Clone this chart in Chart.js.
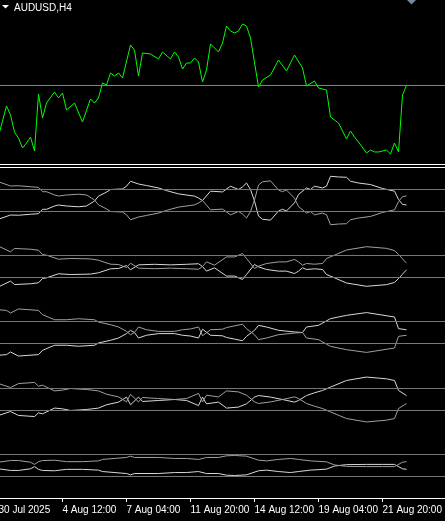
<!DOCTYPE html>
<html>
<head>
<meta charset="utf-8">
<script src="https://cdn.jsdelivr.net/npm/chart.js@4/dist/chart.umd.min.js"></script>
<style>
html, body { margin: 0; padding: 0; background: #000; overflow: hidden; }
#wrap { position: relative; width: 445px; height: 521px; background: #000; }
#wrap canvas { position: absolute; left: 0; }
</style>
</head>
<body>
<div id="wrap">
  <canvas id="price" width="445" height="170" style="top:0px"></canvas>
  <canvas id="osc1" width="445" height="67" style="top:167px"></canvas>
  <canvas id="osc2" width="445" height="67" style="top:233px"></canvas>
  <canvas id="osc3" width="445" height="67" style="top:299px"></canvas>
  <canvas id="osc4" width="445" height="67" style="top:366px"></canvas>
  <canvas id="osc5" width="445" height="89" style="top:432px"></canvas>
</div>
<script>
// AUDUSD H4 line chart, bars counted from the first labelled bar
const symbolTitle = "AUDUSD,H4"
const bidPrice = 0.64957

const tickBars = [-1, 15, 31, 47, 63, 79, 95]
const tickLabels = ["30 Jul 2025", "4 Aug 12:00", "7 Aug 04:00", "11 Aug 20:00", "14 Aug 12:00", "19 Aug 04:00", "21 Aug 20:00"]

const priceBars = [
  -1, 1, 2, 3, 4, 5, 6, 7, 8, 9,
  10, 11, 13, 14, 15, 16, 18, 20, 22, 23,
  24, 25, 26, 27, 28, 29, 30, 32, 33, 34,
  35, 37, 39, 40, 42, 43, 44, 45, 46, 47,
  48, 49, 50, 51, 52, 54, 55, 56, 57, 58,
  59, 60, 61, 62, 64, 65, 67, 69, 71, 73,
  75, 76, 78, 79, 81, 82, 84, 86, 87, 88,
  89, 91, 92, 93, 94, 96, 97, 98, 99, 100,
  101
]
const priceClose = [
  0.64358, 0.64714, 0.64607, 0.64406, 0.64334, 0.64216, 0.64275, 0.64346, 0.64180, 0.64856,
  0.64571, 0.64749, 0.64880, 0.64809, 0.64868, 0.64666, 0.64749, 0.64524, 0.64797, 0.64749,
  0.64809, 0.64986, 0.64963, 0.65105, 0.65069, 0.65105, 0.65046, 0.65437, 0.65377, 0.65069,
  0.65342, 0.65330, 0.65271, 0.65354, 0.65271, 0.65354, 0.65294, 0.65152, 0.65223, 0.65223,
  0.65283, 0.65235, 0.64998, 0.65140, 0.65449, 0.65354, 0.65460, 0.65662, 0.65603, 0.65579,
  0.65603, 0.65686, 0.65662, 0.65520, 0.64939, 0.65022, 0.65081, 0.65259, 0.65129, 0.65318,
  0.65164, 0.64951, 0.65010, 0.64927, 0.64903, 0.64583, 0.64512, 0.64323, 0.64417, 0.64346,
  0.64287, 0.64157, 0.64192, 0.64169, 0.64169, 0.64192, 0.64145, 0.64275, 0.64169, 0.64844,
  0.64957
]

// indicator windows: two mirrored lines each, levels at +1 / -1
const levels = [1, -1]

const osc1Bars = [
  -1, 2, 4, 7, 9, 10, 11, 13, 14, 16,
  19, 21, 23, 24, 26, 27, 30, 31, 32, 34,
  36, 39, 41, 44, 48, 49, 50, 52, 55, 57,
  59, 60, 61, 62, 63, 64, 65, 67, 69, 70,
  71, 73, 74, 76, 77, 78, 80, 81, 82, 84,
  86, 87, 89, 92, 95, 98, 99, 100, 101
]
const osc1A = [
  1.70, 1.32, 1.34, 1.25, 1.20, 0.80, 0.80, 0.50, 0.41, 0.50,
  0.57, 0.50, 0.05, -0.40, -0.76, -1.00, -1.05, -1.30, -1.75, -1.50,
  -1.36, -1.14, -0.90, -0.60, -0.40, -0.22, 0.00, -0.85, -0.78, -1.30,
  -1.00, -1.23, -1.59, -1.00, 0.05, 1.41, 1.70, 1.79, 0.95, 0.80,
  0.95, 0.21, -0.55, -1.14, -1.00, -1.30, -1.14, -1.30, -2.20, -2.14,
  -2.11, -1.75, -1.59, -1.45, -1.09, -0.85, -0.10, 0.35, 0.41
]
const osc1B = [
  -1.70, -1.32, -1.34, -1.25, -1.20, -0.80, -0.80, -0.50, -0.41, -0.50,
  -0.57, -0.50, -0.05, 0.40, 0.76, 1.00, 1.05, 1.30, 1.75, 1.50,
  1.36, 1.14, 0.90, 0.60, 0.40, 0.22, 0.00, 0.85, 0.78, 1.30,
  1.00, 1.23, 1.59, 1.00, -0.05, -1.41, -1.70, -1.79, -0.95, -0.80,
  -0.95, -0.21, 0.55, 1.14, 1.00, 1.30, 1.14, 1.30, 2.20, 2.14,
  2.11, 1.75, 1.59, 1.45, 1.09, 0.85, 0.10, -0.35, -0.41
]

const osc2Bars = [
  -1, 2, 3, 7, 9, 10, 11, 14, 17, 22,
  24, 27, 29, 31, 32, 34, 38, 42, 46, 49,
  50, 51, 53, 56, 58, 60, 61, 63, 64, 66,
  69, 71, 73, 74, 75, 76, 78, 80, 81, 83,
  86, 91, 96, 98, 99, 100, 101
]
const osc2A = [
  1.85, 1.33, 1.64, 1.57, 1.48, 1.09, 1.03, 0.66, 0.73, 0.69,
  0.57, 0.21, 0.18, -0.09, 0.30, -0.15, -0.20, -0.15, -0.20, -0.25,
  0.00, 0.42, 0.12, 0.87, 0.87, 1.18, 0.73, -0.18, 0.03, 0.27,
  0.42, 0.42, 0.64, 0.42, 0.12, 0.27, 0.21, 0.27, 0.73, 1.03,
  1.50, 1.80, 1.65, 1.45, 1.10, 0.70, 0.30
]
const osc2B = [
  -1.85, -1.33, -1.64, -1.57, -1.48, -1.09, -1.03, -0.66, -0.73, -0.69,
  -0.57, -0.21, -0.18, 0.09, -0.30, 0.15, 0.20, 0.15, 0.20, 0.25,
  0.00, -0.42, -0.12, -0.87, -0.87, -1.18, -0.73, 0.18, -0.03, -0.27,
  -0.42, -0.42, -0.64, -0.42, -0.12, -0.27, -0.21, -0.27, -0.73, -1.03,
  -1.50, -1.80, -1.65, -1.45, -1.10, -0.70, -0.30
]

const osc3Bars = [
  -1, 1, 2, 4, 9, 10, 13, 16, 19, 23,
  24, 27, 29, 31, 32, 33, 34, 36, 39, 43,
  45, 47, 49, 50, 52, 55, 56, 58, 60, 61,
  63, 64, 66, 69, 73, 75, 76, 79, 82, 86,
  91, 98, 99, 101
]
const osc3A = [
  2.07, 2.01, 1.77, 2.14, 2.01, 1.62, 1.16, 1.16, 1.25, 1.16,
  0.95, 0.71, 0.50, 0.10, -0.20, 0.00, 0.50, 0.25, 0.10, 0.10,
  0.25, 0.32, 0.50, -0.30, 0.25, 0.30, 0.45, 0.60, 0.75, 0.35,
  -0.20, -0.65, -0.50, -0.20, -0.05, 0.00, -0.50, -0.65, -1.26, -1.56,
  -1.81, -1.41, -0.35, -0.25
]
const osc3B = [
  -2.07, -2.01, -1.77, -2.14, -2.01, -1.62, -1.16, -1.16, -1.25, -1.16,
  -0.95, -0.71, -0.50, -0.10, 0.20, 0.00, -0.50, -0.25, -0.10, -0.10,
  -0.25, -0.32, -0.50, 0.30, -0.25, -0.30, -0.45, -0.60, -0.75, -0.35,
  0.20, 0.65, 0.50, 0.20, 0.05, 0.00, 0.50, 0.65, 1.26, 1.56,
  1.81, 1.41, 0.35, 0.25
]

const osc4Bars = [
  -1, 2, 4, 8, 9, 10, 13, 15, 17, 21,
  24, 26, 29, 31, 32, 34, 35, 39, 43, 46,
  49, 50, 51, 54, 56, 59, 61, 63, 64, 67,
  70, 73, 74, 76, 78, 80, 82, 86, 91, 96,
  98, 99, 101
]
const osc4A = [
  1.45, 1.09, 1.45, 1.55, 1.21, 1.30, 0.78, 0.85, 1.00, 0.91,
  0.78, 0.48, 0.24, -0.22, 0.48, -0.22, 0.18, 0.09, 0.00, 0.09,
  0.55, -0.22, 0.39, 0.24, 0.78, 0.69, 0.39, -0.22, -0.36, -0.22,
  0.00, 0.24, 0.09, -0.36, -0.61, -0.82, -1.13, -1.73, -2.04, -1.88,
  -1.73, -0.82, -0.36
]
const osc4B = [
  -1.45, -1.09, -1.45, -1.55, -1.21, -1.30, -0.78, -0.85, -1.00, -0.91,
  -0.78, -0.48, -0.24, 0.22, -0.48, 0.22, -0.18, -0.09, 0.00, -0.09,
  -0.55, 0.22, -0.39, -0.24, -0.78, -0.69, -0.39, 0.22, 0.36, 0.22,
  0.00, -0.24, -0.09, 0.36, 0.61, 0.82, 1.13, 1.73, 2.04, 1.88,
  1.73, 0.82, 0.36
]

const osc5Bars = [
  -1, 2, 4, 7, 8, 9, 10, 13, 16, 20,
  24, 25, 31, 32, 33, 39, 43, 46, 49, 51,
  54, 56, 58, 61, 64, 66, 69, 72, 74, 77,
  81, 83, 86, 91, 95, 98, 100, 101
]
const osc5A = [
  0.30, 0.45, 0.45, 0.30, 0.10, 0.35, 0.45, 0.48, 0.35, 0.35,
  0.42, 0.55, 0.73, 0.85, 0.73, 0.73, 0.64, 0.64, 0.55, 0.73,
  0.73, 0.88, 0.91, 0.85, 0.48, 0.42, 0.55, 0.64, 0.55, 0.42,
  0.33, 0.05, -0.08, -0.10, -0.10, -0.10, 0.30, 0.35
]
const osc5B = [
  -0.30, -0.45, -0.45, -0.30, -0.10, -0.35, -0.45, -0.48, -0.35, -0.35,
  -0.42, -0.55, -0.73, -0.85, -0.73, -0.73, -0.64, -0.64, -0.55, -0.73,
  -0.73, -0.88, -0.91, -0.85, -0.48, -0.42, -0.55, -0.64, -0.55, -0.42,
  -0.33, -0.05, 0.08, 0.10, 0.10, 0.10, -0.30, -0.35
]

// 4 px per bar
const X_MIN = -0.625
const X_MAX = 110.625

const toPoints = (xs, ys) => xs.map((x, i) => ({ x: x, y: ys[i] }))
const flatLine = (v) => [{ x: X_MIN - 2, y: v }, { x: X_MAX + 2, y: v }]

const lineStyle = (color) => ({
    borderColor: color,
    borderWidth: 1,
    pointRadius: 0,
    tension: 0,
    fill: false
})

const hiddenX = {
    type: "linear",
    min: X_MIN,
    max: X_MAX,
    display: false
}

const chromePlugin = {
    id: "chrome",
    afterDraw(chart) {
        const ctx = chart.ctx
        ctx.save()
        ctx.fillStyle = "#ffffff"
        ctx.fillRect(0, 164, chart.width, 1)
        ctx.fillRect(0, 167, chart.width, 1)
        ctx.beginPath()
        ctx.moveTo(2, 5)
        ctx.lineTo(9, 5)
        ctx.lineTo(5.5, 8.5)
        ctx.closePath()
        ctx.fill()
        ctx.font = '10px "Liberation Sans"'
        ctx.textBaseline = "alphabetic"
        ctx.fillText(symbolTitle, 14, 11)
        ctx.fillStyle = "#778899"
        ctx.beginPath()
        ctx.moveTo(407, 0)
        ctx.lineTo(416, 0)
        ctx.lineTo(411.5, 4.5)
        ctx.closePath()
        ctx.fill()
        ctx.restore()
    }
}

new Chart(document.getElementById("price"), {
    type: "line",
    data: {
        datasets: [
            Object.assign({ data: flatLine(bidPrice) }, lineStyle("#778899")),
            Object.assign({ data: toPoints(priceBars, priceClose) }, lineStyle("#00ff00"))
        ]
    },
    options: {
        responsive: false,
        animation: false,
        events: [],
        layout: { padding: { left: 0, right: 0, top: 0, bottom: 8 } },
        plugins: { legend: { display: false }, tooltip: { enabled: false } },
        scales: {
            x: hiddenX,
            y: { display: false, min: 0.6405, max: 0.6597 }
        }
    },
    plugins: [chromePlugin]
})

const oscChart = (id, bars, lineA, lineB, yMin, withAxis) => {
    const datasets = levels.map(v => Object.assign({ data: flatLine(v) }, lineStyle("#787878")))
    datasets.push(Object.assign({ data: toPoints(bars, lineA) }, lineStyle("#a0a0a0")))
    datasets.push(Object.assign({ data: toPoints(bars, lineB) }, lineStyle("#d8d8d8")))

    const x = withAxis ? {
        type: "linear",
        min: X_MIN,
        max: X_MAX,
        position: "bottom",
        border: { display: true, color: "#ffffff", width: 1 },
        grid: { display: true, drawOnChartArea: false, drawTicks: true, tickLength: 4, color: "#ffffff" },
        ticks: {
            color: "#ffffff",
            font: { family: "Liberation Sans", size: 10 },
            align: "start",
            maxRotation: 0,
            minRotation: 0,
            autoSkip: false,
            padding: 2,
            callback: (value, i) => tickLabels[i]
        },
        afterBuildTicks: (scale) => { scale.ticks = tickBars.map(v => ({ value: v })) },
        afterFit: (scale) => { scale.height = 23; scale.paddingLeft = 0; scale.paddingRight = 0 }
    } : hiddenX

    new Chart(document.getElementById(id), {
        type: "line",
        data: { datasets: datasets },
        options: {
            responsive: false,
            animation: false,
            events: [],
            layout: { padding: 0 },
            plugins: { legend: { display: false }, tooltip: { enabled: false } },
            scales: {
                x: x,
                y: { display: false, min: yMin, max: 3.045 }
            }
        }
    })
}

oscChart("osc1", osc1Bars, osc1A, osc1B, -3.045, false)
oscChart("osc2", osc2Bars, osc2A, osc2B, -3.045, false)
oscChart("osc3", osc3Bars, osc3A, osc3B, -3.045, false)
oscChart("osc4", osc4Bars, osc4A, osc4B, -3.045, false)
oscChart("osc5", osc5Bars, osc5A, osc5B, -2.955, true)
</script>
</body>
</html>
